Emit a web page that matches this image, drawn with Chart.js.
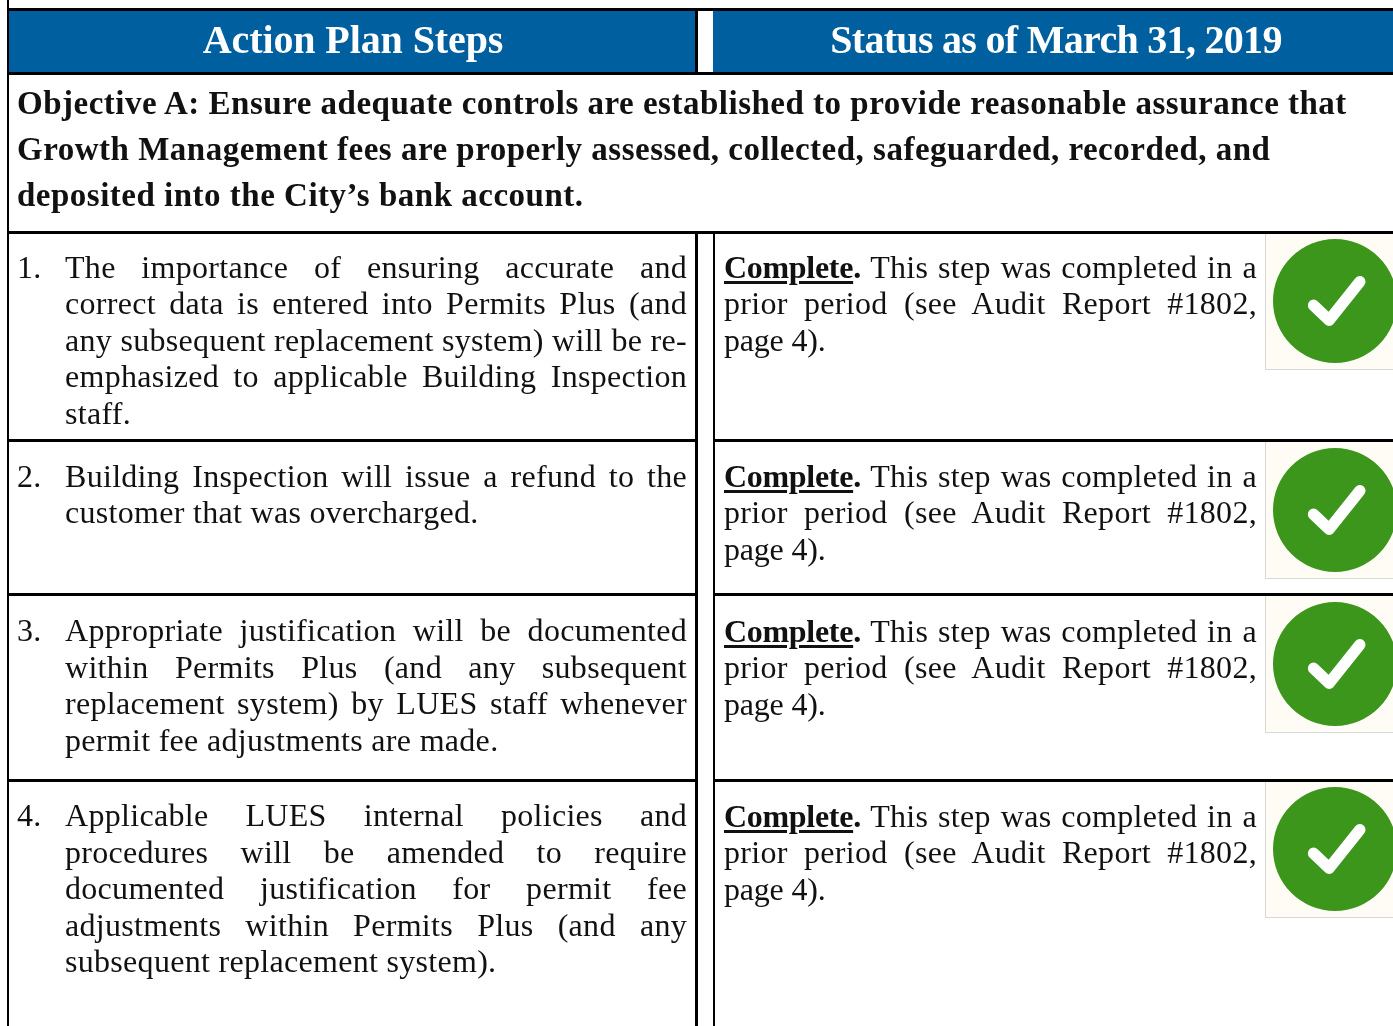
<!DOCTYPE html>
<html>
<head>
<meta charset="utf-8">
<script src="https://cdn.jsdelivr.net/npm/chart.js@4/dist/chart.umd.min.js"></script>
<style>
html, body { margin: 0; padding: 0; background: #fff; overflow: hidden; width: 1393px; height: 1026px; }
#page { position: relative; width: 1393px; height: 1026px; overflow: hidden; font-family: "Liberation Serif", serif; color: #111; filter: blur(0.35px); }
.rule { position: absolute; background: #000; z-index: 2; }
.band { position: absolute; background: #005f9e; }
.line { position: absolute; white-space: nowrap; font-size: 32px; line-height: 36px; letter-spacing: 0.3px; z-index: 3; }
.just { white-space: normal; text-align: justify; text-align-last: justify; }
.head { color: #fff; font-size: 40px; line-height: 50px; font-weight: bold; text-align: center; }
.head0 { letter-spacing: -0.1px; }
.head1 { letter-spacing: -0.7px; }
.obj { font-weight: bold; font-size: 33px; line-height: 40px; letter-spacing: 0.5px; }
.short { letter-spacing: -0.2px; }
b { letter-spacing: -0.3px; }
u { text-decoration-thickness: 3px; text-underline-offset: 3px; }
.iconbox { position: absolute; background: #fffcf5; border-left: 1px solid #d8d8d8; border-bottom: 1px solid #d8d8d8; }
canvas { position: absolute; }
</style>
</head>
<body>
<div id="page"></div>
<script>
var headers = ['Action Plan Steps', 'Status as of March 31, 2019'];
var objectiveLines = [
    'Objective A: Ensure adequate controls are established to provide reasonable assurance that',
    'Growth Management fees are properly assessed, collected, safeguarded, recorded, and',
    'deposited into the City\u2019s bank account.'
];
var stepNumbers = ['1.', '2.', '3.', '4.'];
var stepLines = [
    ['The importance of ensuring accurate and', 'correct data is entered into Permits Plus (and', 'any subsequent replacement system) will be re-', 'emphasized to applicable Building Inspection', 'staff.'],
    ['Building Inspection will issue a refund to the', 'customer that was overcharged.'],
    ['Appropriate justification will be documented', 'within Permits Plus (and any subsequent', 'replacement system) by LUES staff whenever', 'permit fee adjustments are made.'],
    ['Applicable LUES internal policies and', 'procedures will be amended to require', 'documented justification for permit fee', 'adjustments within Permits Plus (and any', 'subsequent replacement system).']
];
var statusWord = 'Complete.';
var statusLines = ['This step was completed in a', 'prior period (see Audit Report #1802,', 'page 4).'];
var statusLabels = ['Complete', 'Complete', 'Complete', 'Complete'];
var statusValues = [1, 1, 1, 1];

// layout of the table
var stepTops = [249, 458, 612.5, 797.5];
var statusTops = [249, 458, 613, 798];
var iconTops = [239, 448, 602, 787];
var boxTops = [233, 441, 596, 782];
var boxHeights = [136, 137, 136, 135];
var rowRules = [439, 593, 779];
var pitch = 36.5;

var page = document.getElementById('page');

function rule(x, y, w, h) {
    var d = document.createElement('div');
    d.className = 'rule';
    d.style.cssText = 'left:' + x + 'px;top:' + y + 'px;width:' + w + 'px;height:' + h + 'px';
    page.appendChild(d);
}

function text(html, cls, x, y, w) {
    var d = document.createElement('div');
    d.className = 'line ' + cls;
    d.style.left = x + 'px';
    d.style.top = Math.floor(y) + 'px';
    if (w) d.style.width = w + 'px';
    d.innerHTML = html;
    page.appendChild(d);
}

// header bands
[[9, 686], [713, 680]].forEach(function(b, i) {
    var d = document.createElement('div');
    d.className = 'band';
    d.style.cssText = 'left:' + b[0] + 'px;top:11px;width:' + b[1] + 'px;height:62px';
    page.appendChild(d);
    text(headers[i], 'head head' + i, b[0] + (i == 0 ? 1 : 3), 15, b[1]);
});

// rules
rule(7, 8, 1386, 3);
rule(7, 72, 1386, 3);
rule(7, 231, 1386, 3);
rule(7, 0, 2, 1026);
rule(695, 11, 3, 61);
rule(695, 234, 3, 792);
rule(713, 234, 2, 792);
rowRules.forEach(function(y) {
    rule(9, y, 687, 3);
    rule(715, y, 678, 3);
});

// objective
objectiveLines.forEach(function(t, i) {
    text(t, 'obj', 17, 84 + i * 45.5 - (i == 0 ? 0.5 : 0));
});

// steps
stepLines.forEach(function(lines, r) {
    text(stepNumbers[r], '', 17, stepTops[r]);
    lines.forEach(function(t, i) {
        var last = i == lines.length - 1;
        text(t, last ? '' : 'just', 65, stepTops[r] + i * pitch, last ? 0 : 622);
    });
});

// status text
statusTops.forEach(function(top) {
    statusLines.forEach(function(t, i) {
        var html = i == 0 ? '<b><u>' + statusWord.slice(0, -1) + '</u>.</b> ' + t : t;
        text(html, i < 2 ? 'just' : 'short', 724, top + i * pitch, i < 2 ? 533 : 0);
    });
});

// check mark on top of each status pie
var checkMark = {
    id: 'checkMark',
    afterDraw: function(chart) {
        var arc = chart.getDatasetMeta(0).data[0];
        var r = arc.outerRadius, c = chart.ctx;
        c.save();
        c.strokeStyle = '#fff';
        c.lineWidth = r * 0.185;
        c.lineCap = 'round';
        c.lineJoin = 'round';
        c.beginPath();
        c.moveTo(arc.x - r * 0.345, arc.y + r * 0.07);
        c.lineTo(arc.x - r * 0.095, arc.y + r * 0.31);
        c.lineTo(arc.x + r * 0.40, arc.y - r * 0.31);
        c.stroke();
        c.restore();
    }
};

statusValues.forEach(function(v, i) {
    var box = document.createElement('div');
    box.className = 'iconbox';
    box.style.cssText = 'left:1265px;top:' + boxTops[i] + 'px;width:128px;height:' + boxHeights[i] + 'px';
    page.appendChild(box);
    var cv = document.createElement('canvas');
    cv.width = 124;
    cv.height = 124;
    cv.style.left = '1273px';
    cv.style.top = iconTops[i] + 'px';
    page.appendChild(cv);
    new Chart(cv, {
        type: 'pie',
        data: {
            labels: [statusLabels[i]],
            datasets: [{ data: [v], backgroundColor: '#3d961c', borderWidth: 0 }]
        },
        options: {
            responsive: false,
            animation: false,
            events: [],
            plugins: { legend: { display: false }, tooltip: { enabled: false } }
        },
        plugins: [checkMark]
    });
});
</script>
</body>
</html>
